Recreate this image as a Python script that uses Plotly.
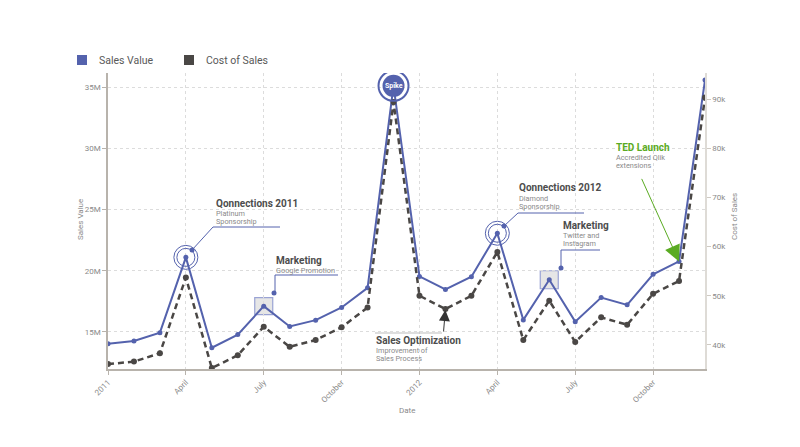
import plotly.graph_objects as go

# ---------------- data ----------------
months = ["2011-01", "2011-02", "2011-03", "2011-04", "2011-05", "2011-06",
          "2011-07", "2011-08", "2011-09", "2011-10", "2011-11", "2011-12",
          "2012-01", "2012-02", "2012-03", "2012-04", "2012-05", "2012-06",
          "2012-07", "2012-08", "2012-09", "2012-10", "2012-11", "2012-12"]
sales_value = [14.04, 14.26, 14.94, 21.09, 13.71, 14.78, 17.10, 15.44, 15.96, 17.00, 18.60, 35.10,
               19.53, 18.47, 19.51, 23.06, 15.98, 19.26, 15.84, 17.81, 17.21, 19.70, 20.76, 35.57]
sales_value = [v * 1e6 for v in sales_value]
cost_of_sales = [36.1, 36.6, 38.3, 53.7, 35.3, 37.9, 43.7, 39.6, 41.0, 43.6, 47.6, 89.4,
                 50.0, 47.3, 50.0, 58.9, 41.0, 49.0, 40.6, 45.6, 44.1, 50.4, 53.0, 90.3]
cost_of_sales = [v * 1e3 for v in cost_of_sales]

x_tick_idx = [0, 3, 6, 9, 12, 15, 18, 21]
x_tick_text = ["2011", "April", "July", "October", "2012", "April", "July", "October"]
left_ticks = [15e6, 20e6, 25e6, 30e6, 35e6]
left_tick_text = ["15M", "20M", "25M", "30M", "35M"]
right_ticks = [40e3, 50e3, 60e3, 70e3, 80e3, 90e3]
right_tick_text = ["40k", "50k", "60k", "70k", "80k", "90k"]

BLUE = "#5462ad"
DARK = "#4a4745"
GREEN = "#5aab22"
GREY_TXT = "#8a8a8a"
TITLE_TXT = "#4d4d4d"
FONT = "Roboto"

W, H = 800, 447
OFF = 8  # page body margin
# target plot area in screen pixels
X0, X1, Y0, Y1 = 108, 705, 73, 369
PW, PH = X1 - X0, Y1 - Y0
L, T = X0 - OFF, Y0 - OFF
R, B = W - PW - L, H - PH - T


def px(x):
    return (x - X0) / PW


def py(y):
    return (Y1 - y) / PH


xi = list(range(len(months)))

fig = go.Figure()
fig.add_trace(go.Scatter(x=xi, y=sales_value, mode="lines+markers", name="Sales Value",
                         line=dict(color=BLUE, width=2), marker=dict(size=5, color=BLUE),
                         showlegend=False, yaxis="y"))
fig.add_trace(go.Scatter(x=xi, y=cost_of_sales, mode="lines+markers", name="Cost of Sales",
                         line=dict(color=DARK, width=2.5, dash="6px,4px"),
                         marker=dict(size=6, color=DARK),
                         showlegend=False, yaxis="y2"))

shapes = []
annotations = []


def line(x0, y0, x1, y1, color=BLUE, width=1):
    shapes.append(dict(type="line", xref="paper", yref="paper", x0=px(x0), y0=py(y0),
                       x1=px(x1), y1=py(y1), line=dict(color=color, width=width)))


def dot(x, y, r=2.5, color=BLUE):
    shapes.append(dict(type="circle", xref="paper", yref="paper", x0=px(x - r), x1=px(x + r),
                       y0=py(y + r), y1=py(y - r), fillcolor=color, line=dict(width=0)))


def text(x, y, s, size=7.3, color=GREY_TXT, bold=False):
    annotations.append(dict(xref="paper", yref="paper", x=px(x), y=py(y), text=("<b>%s</b>" % s) if bold else s,
                            showarrow=False, xanchor="left", yanchor="middle",
                            font=dict(family=FONT, size=size, color=color)))


def ring(i, yv, r, yref="y", color=BLUE, width=1, fill="rgba(0,0,0,0)"):
    shapes.append(dict(type="circle", xref="x", yref=yref, xsizemode="pixel", ysizemode="pixel",
                       xanchor=i, yanchor=yv, x0=-r, x1=r, y0=-r, y1=r,
                       fillcolor=fill, line=dict(color=color, width=width)))


def box(i, yv, w, h):
    shapes.append(dict(type="rect", xref="x", yref="y", xsizemode="pixel", ysizemode="pixel",
                       xanchor=i, yanchor=yv, x0=-w / 2, x1=w / 2, y0=-h / 2, y1=h / 2,
                       fillcolor="rgba(200,200,200,0.45)", line=dict(color="#9aa3d4", width=1.2),
                       layer="below"))


TS = 10  # bold title size

# legend
shapes.append(dict(type="rect", xref="paper", yref="paper", x0=px(77), x1=px(87), y0=py(65), y1=py(55),
                   fillcolor=BLUE, line=dict(width=0)))
shapes.append(dict(type="rect", xref="paper", yref="paper", x0=px(184), x1=px(194), y0=py(65), y1=py(55),
                   fillcolor=DARK, line=dict(width=0)))
text(97, 61, "Sales Value", size=10.5, color="#595959")
text(204, 61, "Cost of Sales", size=10.5, color="#595959")

# Qonnections 2011
ring(3, sales_value[3], 12)
ring(3, sales_value[3], 9)
text(214, 203, "Qonnections 2011", size=TS, color=TITLE_TXT, bold=True)
text(214, 213, "Platinum")
text(214, 221, "Sponsorship")
line(213, 227, 280, 227)
line(213, 227, 192, 250)
dot(192, 250)

# Marketing 2011
box(6, sales_value[6], 18, 17)
text(274, 260, "Marketing", size=TS, color=TITLE_TXT, bold=True)
text(274, 270, "Google Promotion")
line(275, 275, 338, 275)
line(275, 275, 275, 293)
dot(274, 293)

# Spike
ring(11, sales_value[11], 15, width=2)
ring(11, sales_value[11], 11, fill=BLUE, width=0)
annotations.append(dict(x=11, y=sales_value[11], xref="x", yref="y", text="<b>Spike</b>", showarrow=False,
                        font=dict(family=FONT, size=7, color="white")))

# Sales Optimization
text(374, 340, "Sales Optimization", size=TS, color=TITLE_TXT, bold=True)
text(374, 350, "Improvement of")
text(374, 358, "Sales Process")
line(375, 333, 442, 333, color="#bdbdbd", width=1.2)
annotations.append(dict(x=13, y=cost_of_sales[13], xref="x", yref="y2", ax=-2, ay=24,
                        axref="pixel", ayref="pixel", text="", showarrow=True, arrowhead=2,
                        arrowsize=2.2, arrowwidth=1, arrowcolor="#333333", standoff=1))

# Qonnections 2012
ring(15, sales_value[15], 12)
ring(15, sales_value[15], 9)
text(517, 187, "Qonnections 2012", size=TS, color=TITLE_TXT, bold=True)
text(517, 198, "Diamond")
text(517, 206, "Sponsorship")
line(518, 213, 584, 213)
line(518, 213, 504, 226)
dot(504, 226)

# Marketing 2012
box(17, sales_value[17], 18, 18)
text(561, 225, "Marketing", size=TS, color=TITLE_TXT, bold=True)
text(561, 235.5, "Twitter and")
text(561, 244, "Instagram")
line(561, 250, 600, 250)
line(561, 250, 561, 268)
dot(561, 268)

# TED Launch
text(614, 147, "TED Launch", size=TS, color=GREEN, bold=True)
text(614, 157, "Accredited Qlik")
text(614, 165, "extensions")
annotations.append(dict(x=22, y=sales_value[22], xref="x", yref="y", ax=-38, ay=-84,
                        axref="pixel", ayref="pixel", text="", showarrow=True, arrowhead=2,
                        arrowsize=3.2, arrowwidth=1, arrowcolor=GREEN, standoff=0))

# axis titles
annotations.append(dict(xref="paper", yref="paper", x=px(80), y=py(220), text="Sales Value", textangle=-90,
                        xanchor="center", yanchor="middle",
                        showarrow=False, font=dict(family=FONT, size=8, color=GREY_TXT)))
annotations.append(dict(xref="paper", yref="paper", x=px(734), y=py(217), text="Cost of Sales", textangle=-90,
                        xanchor="center", yanchor="middle",
                        showarrow=False, font=dict(family=FONT, size=8, color=GREY_TXT)))
annotations.append(dict(xref="paper", yref="paper", x=px(407), y=py(410), text="Date",
                        xanchor="center", yanchor="middle",
                        showarrow=False, font=dict(family=FONT, size=8, color=GREY_TXT)))

AX_LINE = "#b8b3ac"
fig.update_layout(
    width=W, height=H,
    margin=dict(l=L, r=R, t=T, b=B),
    paper_bgcolor="white", plot_bgcolor="white",
    font=dict(family=FONT, size=8, color=GREY_TXT),
    showlegend=False,
    xaxis=dict(type="linear", range=[0, 23], tickmode="array", tickvals=x_tick_idx, ticktext=x_tick_text,
               tickangle=-45, showline=True, linecolor=AX_LINE, linewidth=1.5, ticks="outside",
               ticklen=4, tickcolor=AX_LINE, showgrid=True, gridcolor="#dcdcdc", griddash="dot",
               zeroline=False, tickfont=dict(size=8, color=GREY_TXT)),
    yaxis=dict(range=[11.97e6, 36.15e6], tickmode="array", tickvals=left_ticks, ticktext=left_tick_text,
               showline=True, linecolor=AX_LINE, linewidth=1.5, ticks="outside", ticklen=4,
               tickcolor=AX_LINE, showgrid=True, gridcolor="#dcdcdc", griddash="dot", zeroline=False,
               tickfont=dict(size=8, color=GREY_TXT)),
    yaxis2=dict(range=[35.1e3, 95.3e3], overlaying="y", side="right", tickmode="array",
                tickvals=right_ticks, ticktext=right_tick_text, showline=True, linecolor="#dedbd6",
                linewidth=1.5, ticks="outside", ticklen=4, tickcolor="#cfcac3", showgrid=False,
                zeroline=False, tickfont=dict(size=8, color=GREY_TXT)),
    shapes=shapes,
    annotations=annotations,
)

fig.write_html("out.html")
